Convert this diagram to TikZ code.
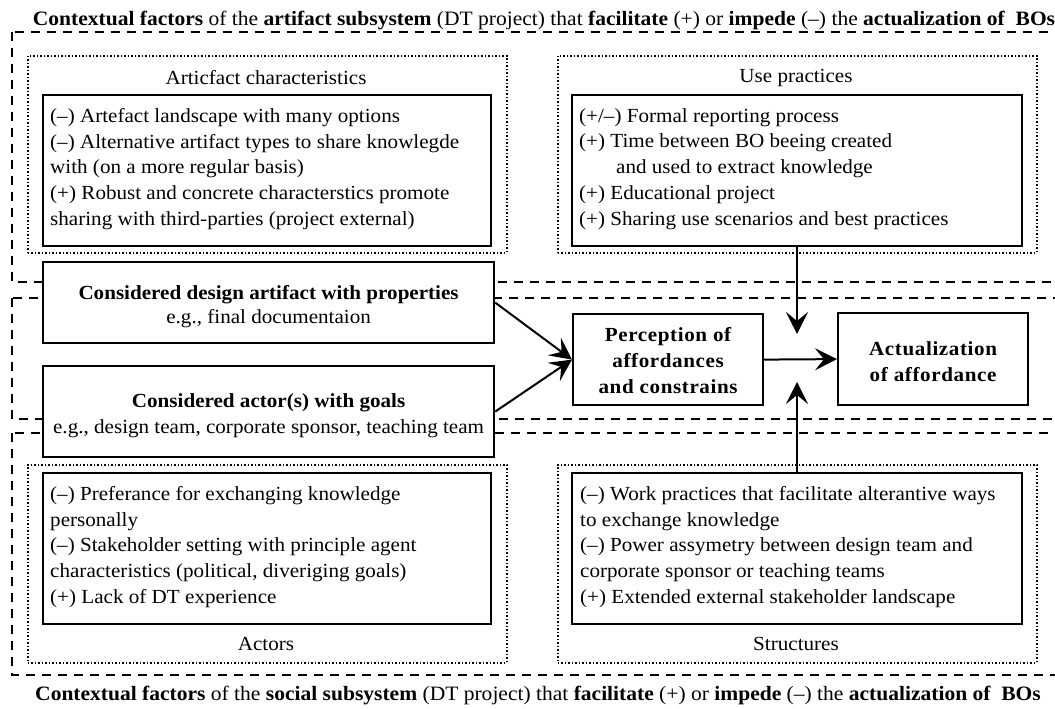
\documentclass[tikz,border=0pt]{standalone}
\usepackage{fontspec}
\setmainfont{Liberation Serif}[FakeStretch=1.055]
\usetikzlibrary{arrows.meta,calc}
\newcommand\bodyfnt{\fontsize{20}{25.8}\selectfont}
\newcommand\titlefnt{\fontsize{20.4}{24}\selectfont}
\newcommand\boxbfnt{\fontsize{20}{26}\selectfont\bfseries\addfontfeature{LetterSpace=3}}
\begin{document}
\begin{tikzpicture}[x=1pt,y=-1pt,
  every node/.style={font=\bodyfnt},
  dashbox/.style={draw, line width=2pt, dash pattern=on 9pt off 7pt},
  dotbox/.style={draw, line width=1.8pt, dash pattern=on 1.5pt off 2pt, inner sep=0pt, anchor=north west},
  solidbox/.style={draw, line width=2.2pt, fill=white, inner sep=0pt, anchor=north west},
  itemtxt/.style={anchor=north west, align=left, inner sep=0pt},
  lbl/.style={inner sep=0pt},
  boldbox/.style={draw, line width=2.2pt, fill=white, inner sep=0pt, align=center, anchor=north west},
  arr/.style={line width=2pt, -{Stealth[length=22pt,width=22pt,inset=9pt]}},
]
\useasboundingbox (0,0) rectangle (1055,709);
\begin{scope}
\clip (0,0) rectangle (1055,709);
\draw[dashbox] (12,32) rectangle (1080,282);
\draw[dashbox] (12,298) rectangle (1080,419);
\draw[dashbox] (12,433) rectangle (1080,675);
\end{scope}

% titles
\node[font=\titlefnt, anchor=base] (ttop) at (544,26) {\textbf{Contextual factors} of the \textbf{artifact subsystem} (DT project) that \textbf{facilitate} (+) or \textbf{impede} (–) the \textbf{actualization of~ BOs}};
\node[font=\titlefnt, anchor=base] (tbot) at (538,700) {\textbf{Contextual factors} of the \textbf{social subsystem} (DT project) that \textbf{facilitate} (+) or \textbf{impede} (–) the \textbf{actualization of~ BOs}};

% artifact characteristics
\node[dotbox, minimum width=479, minimum height=197] (artdot) at (27,55) {};
\node[lbl] (artlbl) at (266,78) {Articfact characteristics};
\node[solidbox, minimum width=448, minimum height=151] (artin) at (42,94) {};
\node[itemtxt] (arttxt) at (50,108) {(–) Artefact landscape with many options\\
(–) Alternative artifact types to share knowlegde\\
with (on a more regular basis)\\
(+) Robust and concrete characterstics promote\\
sharing with third-parties (project external)};

% use practices
\node[dotbox, minimum width=479, minimum height=197] (usedot) at (557,55) {};
\node[lbl] (uselbl) at (796,78) {Use practices};
\node[solidbox, minimum width=450, minimum height=151] (usein) at (571,94) {};
\node[itemtxt] (usetxt) at (579,108) {(+/–) Formal reporting process\\
(+) Time between BO beeing created\\
\hspace*{37pt}and used to extract knowledge\\
(+) Educational project\\
(+) Sharing use scenarios and best practices};

% design artifact
\node[boldbox, font=\fontsize{20}{24}\selectfont, minimum width=451, minimum height=81] (des) at (42,261) {\rule{0pt}{22pt}\textbf{Considered design artifact with properties}\\e.g., final documentaion};
% actors goals
\node[boldbox, font=\fontsize{20}{26}\selectfont, minimum width=451, minimum height=91] (actr) at (42,365) {\rule{0pt}{23pt}\textbf{Considered actor(s) with goals}\\e.g., design team, corporate sponsor, teaching team};

% perception
\node[boldbox, font=\boxbfnt, minimum width=190, minimum height=91] (perc) at (572,313) {\rule{0pt}{16pt}Perception of\\affordances\\and constrains};
\node[boldbox, font=\boxbfnt, minimum width=190, minimum height=92] (act) at (837,312) {\rule{0pt}{18pt}Actualization\\of affordance};

% actors
\node[dotbox, minimum width=479, minimum height=198] (actdot) at (27,464) {};
\node[solidbox, minimum width=448, minimum height=151] (actin) at (42,472) {};
\node[itemtxt] (acttxt) at (50,486) {(–) Preferance for exchanging knowledge\\
personally\\
(–) Stakeholder setting with principle agent\\
characteristics (political, diveriging goals)\\
(+) Lack of DT experience};
\node[lbl] (actlbl) at (266,644) {Actors};

% structures
\node[dotbox, minimum width=479, minimum height=198] (strdot) at (557,464) {};
\node[solidbox, minimum width=450, minimum height=151] (strin) at (571,472) {};
\node[itemtxt] (strtxt) at (580,486) {(–) Work practices that facilitate alterantive ways\\
to exchange knowledge\\
(–) Power assymetry between design team and\\
corporate sponsor or teaching teams\\
(+) Extended external stakeholder landscape};
\node[lbl] (strlbl) at (796,644) {Structures};

% arrow targets
\coordinate (dtip) at (797,334);
\coordinate (utip) at (797,382);

\draw[arr] (des.east) -- (perc.west);
\draw[arr] (actr.east) -- (perc.west);
\draw[arr] (perc.east) -- (act.west);
\draw[arr] (usein.south -| dtip) -- (dtip);
\draw[arr] (strin.north -| utip) -- (utip);
\end{tikzpicture}
\end{document}
